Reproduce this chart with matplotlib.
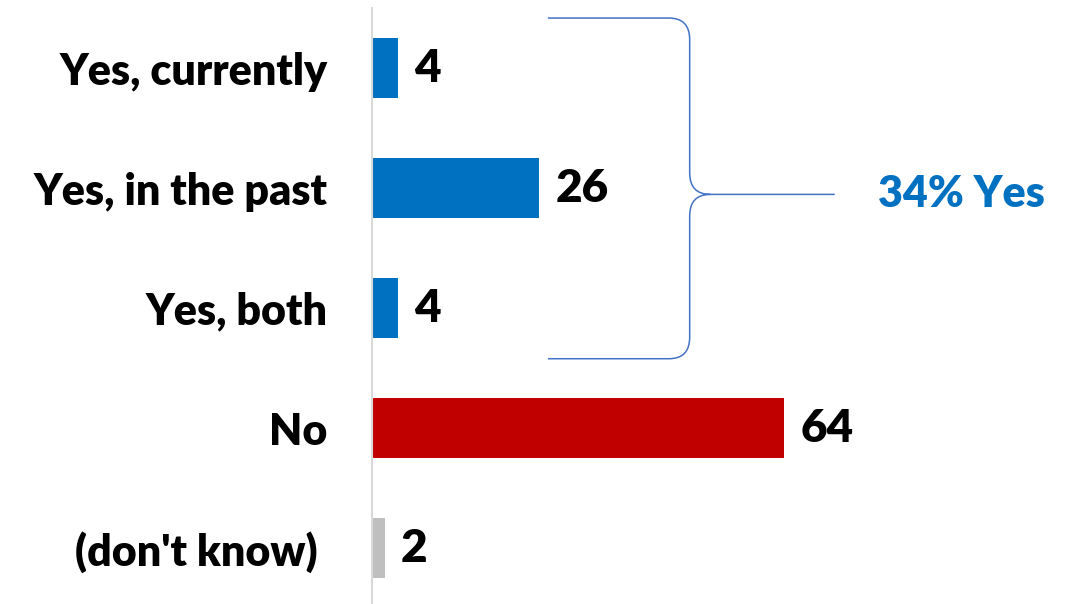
import matplotlib
matplotlib.use('Agg')
import matplotlib.pyplot as plt
from matplotlib.path import Path
from matplotlib.patches import PathPatch

# Survey responses (%)
categories = ['Yes, currently', 'Yes, in the past', 'Yes, both', 'No', "(don't know) "]
values = [4, 26, 4, 64, 2]
colors = ['#0070C0', '#0070C0', '#0070C0', '#C00000', '#BFBFBF']
yes_total = 34

plt.rcParams['font.family'] = ['Lato', 'DejaVu Sans']

fig = plt.figure(figsize=(10.81, 6.04), dpi=100)
ax = fig.add_axes([0.344, -0.007, 0.656, 0.993])

y = list(range(len(categories)))
ax.barh(y, values, height=0.5, color=colors)
ax.set_ylim(len(categories) - 0.5, -0.5)
ax.set_xlim(0, 110)

# value labels
for yi, v in zip(y, values):
    ax.text(v + 2.5, yi, str(v), va='center', ha='left',
            fontsize=33, fontweight='heavy', color='black')

ax.set_yticks(y)
ax.set_yticklabels(categories, fontsize=31, fontweight='heavy')
ax.tick_params(axis='y', length=0, pad=32)
ax.set_xticks([])
for side in ['top', 'right', 'bottom']:
    ax.spines[side].set_visible(False)
ax.spines['left'].set_color('#D9D9D9')
ax.spines['left'].set_linewidth(1.5)

# brace around the "yes" answers
top, bot = -0.42, 2.42
mid = (top + bot) / 2 + 0.05
x0, xv, xt = 27.3, 49.3, 71.8
rx, ry = 3.2, 0.18
verts = [
    (x0, top), (xv - rx, top), (xv, top), (xv, top + ry),
    (xv, mid - ry), (xv, mid), (xv + rx, mid), (xt, mid),
    (xv + rx, mid), (xv, mid), (xv, mid + ry),
    (xv, bot - ry), (xv, bot), (xv - rx, bot), (x0, bot),
]
codes = [Path.MOVETO, Path.LINETO, Path.CURVE3, Path.CURVE3,
         Path.LINETO, Path.CURVE3, Path.CURVE3, Path.LINETO,
         Path.MOVETO, Path.CURVE3, Path.CURVE3,
         Path.LINETO, Path.CURVE3, Path.CURVE3, Path.LINETO]
ax.add_patch(PathPatch(Path(verts, codes), fill=False, edgecolor='#4472C4',
                       linewidth=1.1, clip_on=False))

ax.text(91.5, mid, f'{yes_total}% Yes', ha='center', va='center',
        fontsize=31, fontweight='heavy', color='#0070C0')

fig.savefig('out.png', dpi=100)
